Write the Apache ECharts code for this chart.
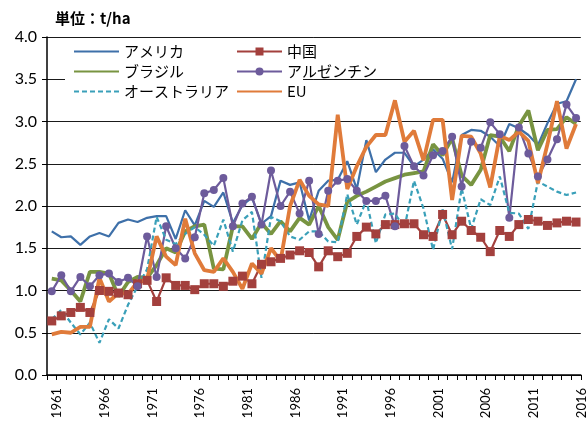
<!DOCTYPE html>
<html>
<head>
<meta charset="utf-8">
<script src="https://cdn.jsdelivr.net/npm/echarts@6/dist/echarts.min.js"></script>
<style>
html,body{margin:0;padding:0;background:#fff;}
#c{width:588px;height:428px;}
</style>
</head>
<body>
<div id="c"></div>
<script>
var years = ['1961','1962','1963','1964','1965','1966','1967','1968','1969','1970',
'1971','1972','1973','1974','1975','1976','1977','1978','1979','1980',
'1981','1982','1983','1984','1985','1986','1987','1988','1989','1990',
'1991','1992','1993','1994','1995','1996','1997','1998','1999','2000',
'2001','2002','2003','2004','2005','2006','2007','2008','2009','2010',
'2011','2012','2013','2014','2015','2016'];

var usa = [1.70,1.63,1.64,1.54,1.64,1.68,1.64,1.80,1.84,1.81,
1.86,1.88,1.88,1.61,1.95,1.77,2.06,1.99,2.16,1.80,
2.01,2.10,1.79,1.88,2.30,2.25,2.28,1.83,2.18,2.30,
2.31,2.53,2.20,2.78,2.40,2.55,2.63,2.63,2.47,2.55,
2.67,2.56,2.28,2.84,2.90,2.89,2.82,2.71,2.97,2.92,
2.84,2.72,2.98,3.21,3.24,3.50];

var china = [0.64,0.70,0.74,0.80,0.74,1.00,0.99,0.97,0.95,1.08,
1.12,0.87,1.15,1.06,1.06,1.01,1.08,1.08,1.05,1.11,
1.17,1.08,1.31,1.34,1.38,1.42,1.47,1.45,1.28,1.47,
1.40,1.44,1.64,1.75,1.67,1.78,1.78,1.79,1.79,1.66,
1.64,1.90,1.66,1.82,1.71,1.63,1.46,1.71,1.64,1.78,
1.84,1.82,1.77,1.80,1.82,1.81];

var brazil = [1.14,1.12,1.00,0.87,1.22,1.22,1.20,0.93,1.10,1.16,
1.15,1.30,1.50,1.45,1.70,1.76,1.78,1.26,1.25,1.76,
1.76,1.61,1.80,1.67,1.82,1.70,1.86,1.78,2.00,1.75,
1.60,2.05,2.12,2.17,2.23,2.29,2.33,2.37,2.39,2.41,
2.73,2.60,2.80,2.36,2.25,2.43,2.84,2.82,2.65,2.95,
3.13,2.66,2.90,2.91,3.05,2.97];

var argentina = [0.99,1.18,0.99,1.16,1.05,1.18,1.20,1.10,1.15,1.05,
1.64,1.16,1.76,1.50,1.38,1.63,2.15,2.19,2.33,1.76,
2.03,2.11,1.78,2.42,2.00,2.17,1.91,2.30,1.67,2.18,
2.30,2.32,2.18,2.06,2.06,2.12,1.76,2.71,2.47,2.36,
2.60,2.65,2.82,2.23,2.76,2.69,2.99,2.85,1.86,2.93,
2.62,2.35,2.55,2.79,3.20,3.04];

var australia = [0.66,0.77,0.62,0.48,0.62,0.38,0.66,0.55,0.83,1.05,
1.25,1.87,1.60,1.55,1.67,1.75,1.66,1.53,1.84,1.46,
1.83,1.93,1.15,1.87,1.82,1.64,1.60,1.70,1.70,1.58,
1.57,2.14,1.78,2.07,1.56,1.90,1.91,1.74,2.30,1.97,
1.48,1.96,1.49,2.21,1.73,2.08,2.01,2.35,1.92,1.91,
1.73,2.29,2.23,2.17,2.13,2.16];

var eu = [0.48,0.51,0.50,0.57,0.57,1.15,0.87,0.97,0.96,1.10,
1.13,1.64,1.40,1.30,1.85,1.44,1.24,1.22,1.38,1.22,
1.02,1.32,1.20,1.50,1.35,2.00,2.31,2.12,2.02,2.00,
3.08,2.20,2.47,2.70,2.84,2.84,3.25,2.76,2.89,2.54,
3.02,3.02,2.07,2.83,2.82,2.62,2.22,2.83,2.78,2.88,
2.77,2.27,2.73,3.24,2.68,2.97];

var yTicks = ['0.0','0.5','1.0','1.5','2.0','2.5','3.0','3.5','4.0'];

var numFont = 'Lato, "Liberation Sans", sans-serif';
var jpFont = '"Noto Sans CJK JP", sans-serif';

function lineSeries(name, data, color, width, extra) {
  var s = {
    name: name, type: 'line', data: data, smooth: false,
    showSymbol: false, symbol: 'none',
    lineStyle: { color: color, width: width },
    itemStyle: { color: color },
    emphasis: { disabled: true },
    animation: false
  };
  if (extra) { for (var k in extra) s[k] = extra[k]; }
  return s;
}

var noMark = { color: 'rgba(0,0,0,0)', borderColor: 'rgba(0,0,0,0)', borderWidth: 0 };
var legText = { fontFamily: jpFont, fontSize: 15, color: '#000', lineHeight: 15 };

var chart = echarts.init(document.getElementById('c'), null, { renderer: 'canvas' });
chart.setOption({
  backgroundColor: '#fff',
  animation: false,
  title: {
    left: 50, top: 6,
    text: '{b|単位}{n|：t/ha}',
    textStyle: {
      rich: {
        b: { fontFamily: jpFont, fontSize: 15, fontWeight: 'bold', color: '#000' },
        n: { fontFamily: jpFont, fontSize: 15, color: '#000' }
      }
    }
  },
  graphic: [{
    type: 'rect', z: 3,
    shape: { x: 65, y: 39, width: 238, height: 70 },
    style: { fill: '#fff' }
  }],
  legend: [{
    orient: 'vertical', left: 73, top: 44, padding: 0,
    itemWidth: 45, itemHeight: 10, itemGap: 5,
    data: [
      { name: 'アメリカ', itemStyle: noMark },
      { name: 'ブラジル', itemStyle: noMark },
      { name: 'オーストラリア', itemStyle: noMark }
    ],
    textStyle: legText
  }, {
    orient: 'vertical', left: 236, top: 44, padding: 0,
    itemWidth: 45, itemHeight: 10, itemGap: 5,
    data: [
      { name: '中国' },
      { name: 'アルゼンチン' },
      { name: 'EU', itemStyle: noMark }
    ],
    textStyle: legText
  }],
  grid: { left: 47, right: 3, top: 37, bottom: 53, containLabel: false },
  xAxis: {
    type: 'category', data: years, boundaryGap: true,
    axisLine: { show: true, lineStyle: { color: '#000', width: 1.5 } },
    axisTick: { show: true, interval: 0, alignWithLabel: false, length: 5, lineStyle: { color: '#000' } },
    axisLabel: { interval: 4, rotate: 90, margin: 13, verticalAlign: 'top', lineHeight: 11,
      fontFamily: numFont, fontSize: 13, color: '#000' },
    splitLine: { show: false }
  },
  yAxis: {
    type: 'value', min: 0, max: 4, interval: 0.5,
    axisLine: { show: true, lineStyle: { color: '#000', width: 1.5 } },
    axisTick: { show: true, length: 5, lineStyle: { color: '#000' } },
    axisLabel: {
      margin: 10, fontFamily: numFont, fontSize: 16, color: '#000',
      formatter: function (v) { return yTicks[Math.round(v / 0.5)]; }
    },
    splitLine: { show: true, lineStyle: { color: '#1a1a1a', width: 1 } }
  },
  series: [
    lineSeries('アメリカ', usa, '#3e70a9', 2.2),
    lineSeries('中国', china, '#a3403d', 2.2, { showSymbol: true, showAllSymbol: true, symbol: 'rect', symbolSize: 9 }),
    lineSeries('ブラジル', brazil, '#789441', 3.8),
    lineSeries('アルゼンチン', argentina, '#6d5b9b', 2.2, { showSymbol: true, showAllSymbol: true, symbol: 'circle', symbolSize: 8 }),
    (function () {
      var s = lineSeries('オーストラリア', australia, '#3aa0b9', 2.2);
      s.lineStyle.type = [5, 3];
      return s;
    })(),
    lineSeries('EU', eu, '#e07b3a', 3.8)
  ]
});
</script>
</body>
</html>
